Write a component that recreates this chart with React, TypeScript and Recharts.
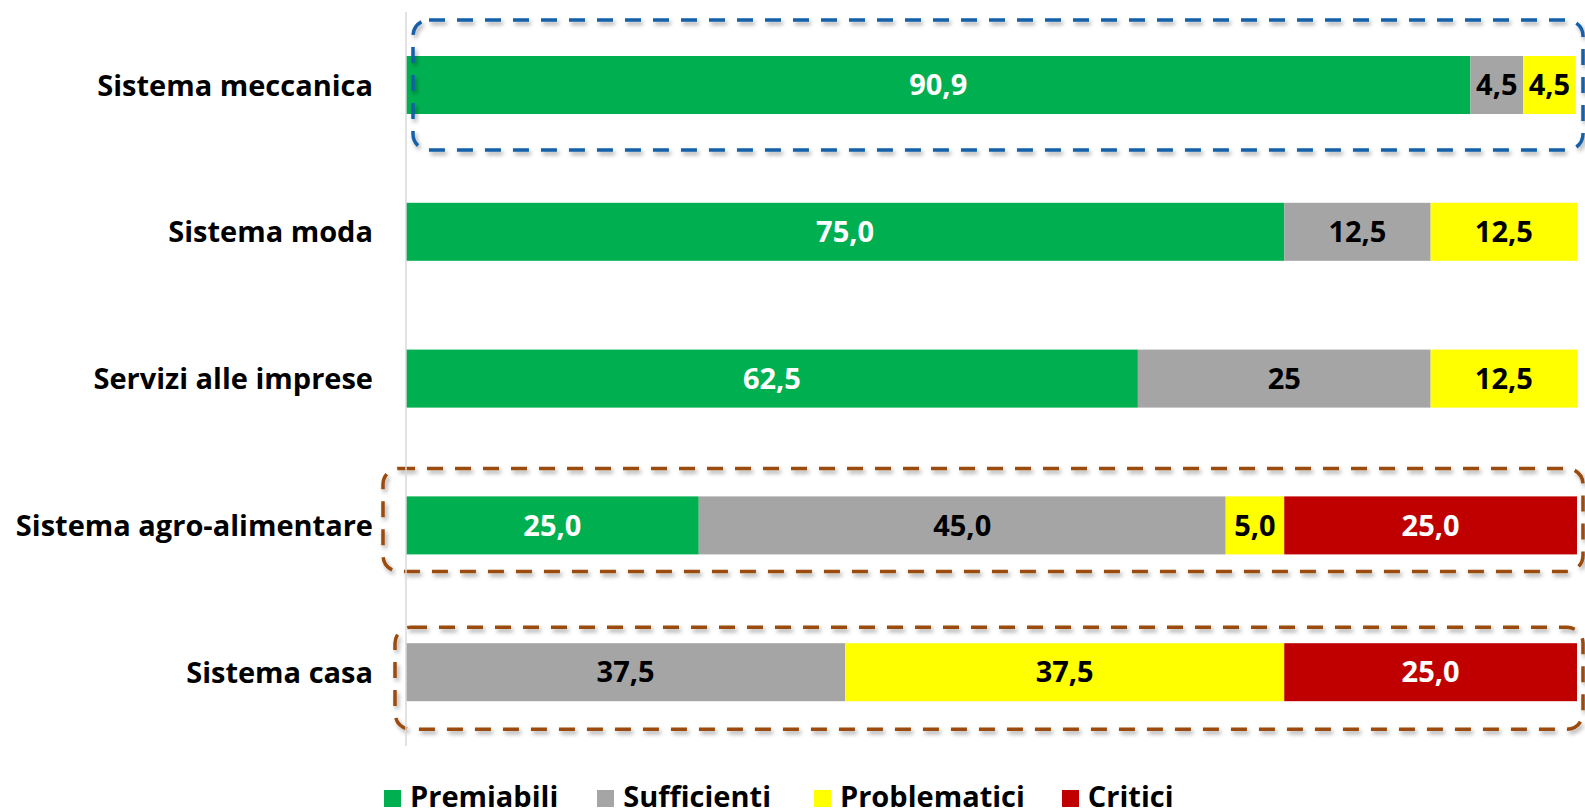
import React from 'react';
import { BarChart, Bar, XAxis, YAxis, LabelList, Legend } from 'recharts';

const categories = ['Sistema meccanica', 'Sistema moda', 'Servizi alle imprese', 'Sistema agro-alimentare', 'Sistema casa'];
const seriesNames = ['Premiabili', 'Sufficienti', 'Problematici', 'Critici'];
const premiabili = [90.9, 75.0, 62.5, 25.0, 0];
const sufficienti = [4.5, 12.5, 25, 45.0, 37.5];
const problematici = [4.5, 12.5, 12.5, 5.0, 37.5];
const critici = [0, 0, 0, 25.0, 25.0];
const premiabiliLabels = ['90,9', '75,0', '62,5', '25,0', ''];
const sufficientiLabels = ['4,5', '12,5', '25', '45,0', '37,5'];
const problematiciLabels = ['4,5', '12,5', '12,5', '5,0', '37,5'];
const criticiLabels = ['', '', '', '25,0', '25,0'];

const COLORS = ['#00B050', '#A5A5A5', '#FFFF00', '#C00000'];
const LABEL_COLORS = ['#FFFFFF', '#000000', '#000000', '#FFFFFF'];
const FONT = '"Open Sans", "Noto Sans", sans-serif';
const FS = 29;

// annotation boxes (highlighted categories)
const highlightBoxes: Record<string, { color: string; left: number; right: number; padTop: number; padBottom: number }> = {
  'Sistema meccanica': { color: '#1660A9', left: 413, right: 1583, padTop: 36, padBottom: 36 },
  'Sistema agro-alimentare': { color: '#9A4B0C', left: 383, right: 1583, padTop: 28, padBottom: 17 },
  'Sistema casa': { color: '#9A4B0C', left: 395, right: 1583, padTop: 16, padBottom: 28 },
};

const data = categories.map((name, i) => ({
  name,
  Premiabili: premiabili[i],
  Sufficienti: sufficienti[i],
  Problematici: problematici[i],
  Critici: critici[i],
  l0: premiabiliLabels[i],
  l1: sufficientiLabels[i],
  l2: problematiciLabels[i],
  l3: criticiLabels[i],
}));

const LastShape = (props: any) => {
  const { x, y, width, height, fill, payload } = props;
  const box = payload ? highlightBoxes[payload.name] : undefined;
  return (
    <g>
      {width > 0 && <rect x={x} y={y} width={width} height={height} fill={fill} />}
      {box && (
        <rect
          x={box.left}
          y={y - box.padTop}
          width={box.right - box.left}
          height={height + box.padTop + box.padBottom}
          rx={16}
          ry={16}
          fill="none"
          stroke={box.color}
          strokeWidth={3.5}
          strokeDasharray="16 12"
          filter="url(#boxShadow)"
        />
      )}
    </g>
  );
};

const PlainShape = (props: any) => {
  const { x, y, width, height, fill } = props;
  if (!width || width <= 0) return <g />;
  return <rect x={x} y={y} width={width} height={height} fill={fill} />;
};

const ITEM_GAPS = [39, 43, 37, 0];

const renderLegend = () => (
  <div style={{ display: 'flex', alignItems: 'flex-start', paddingLeft: 384, fontFamily: FONT, fontWeight: 700, fontSize: FS, height: 30, lineHeight: '30px' }}>
    {seriesNames.map((n, i) => (
      <div key={n} style={{ display: 'flex', alignItems: 'flex-start', marginRight: ITEM_GAPS[i] }}>
        <span style={{ display: 'inline-block', width: 17, height: 17, background: COLORS[i], marginRight: 9, marginTop: 9 }} />
        <span style={{ color: '#000', whiteSpace: 'nowrap' }}>{n}</span>
      </div>
    ))}
  </div>
);

export default function App() {
  return (
    <div style={{ position: 'absolute', left: 0, top: 0, width: 1585, height: 812, background: '#fff' }}>
      <BarChart
        width={1585}
        height={812}
        data={data}
        layout="vertical"
        barSize={58}
        margin={{ top: 12, right: 8, bottom: 36, left: 0 }}
      >
        <defs>
          <filter id="boxShadow" x="-5%" y="-30%" width="110%" height="160%">
            <feDropShadow dx="2" dy="3" stdDeviation="2" floodColor="#000" floodOpacity="0.35" />
          </filter>
        </defs>
        <XAxis type="number" domain={[0, 100]} hide />
        <YAxis
          type="category"
          dataKey="name"
          width={406}
          axisLine={{ stroke: '#D9D9D9', strokeWidth: 1.5 }}
          tickLine={false}
          tickSize={0}
          tickMargin={33}
          tick={{ fill: '#000', fontFamily: FONT, fontWeight: 700, fontSize: FS }}
        />
        <Legend verticalAlign="bottom" height={30} content={renderLegend} wrapperStyle={{ top: 781, left: 0, bottom: 'auto' }} />
        {seriesNames.map((s, i) => (
          <Bar
            key={s}
            dataKey={s}
            stackId="a"
            fill={COLORS[i]}
            isAnimationActive={false}
            shape={i === 3 ? LastShape : PlainShape}
          >
            <LabelList
              dataKey={`l${i}`}
              position="center"
              fill={LABEL_COLORS[i]}
              style={{ fontFamily: FONT, fontWeight: 700, fontSize: FS, fill: LABEL_COLORS[i] }}
            />
          </Bar>
        ))}
      </BarChart>
    </div>
  );
}
